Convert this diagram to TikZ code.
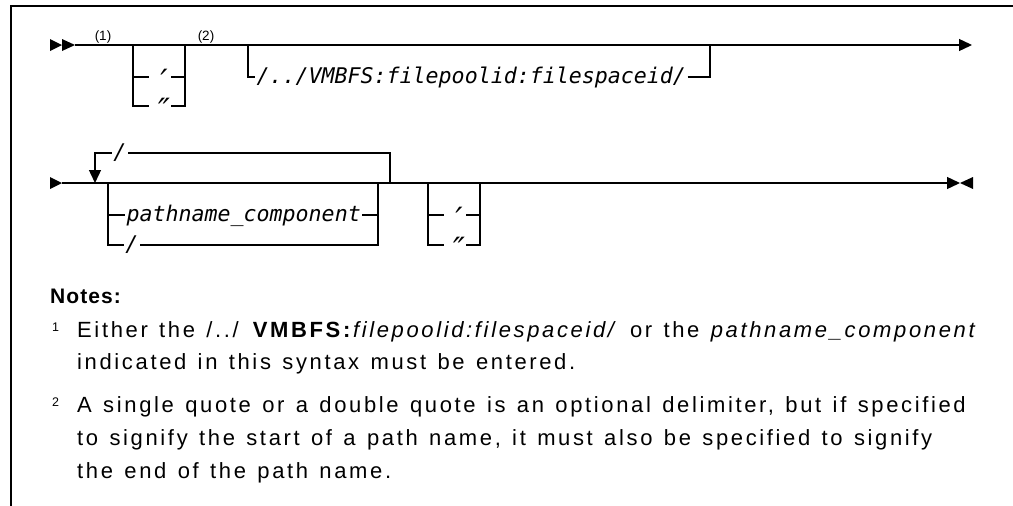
\documentclass[tikz,border=0pt]{standalone}
\usepackage{fontspec}
\setmainfont{Liberation Sans}
\newfontfamily\synfont{DejaVu Sans Mono}
\newfontfamily\notefont{Liberation Sans}[LetterSpace=12, WordSpace=1.3]
\newfontfamily\headfont{Liberation Sans}[LetterSpace=5]
\usetikzlibrary{arrows.meta}

% quote marks of the syntax, set large and lowered onto the rail
\newcommand{\railquote}[1]{\raisebox{-9pt}{\fontsize{32}{32}\selectfont #1}}

\begin{document}
\begin{tikzpicture}[x=1pt,y=-1pt,
  rail/.style={line width=1.4pt},
  tip/.style={-{Triangle[length=13pt,width=12pt]}},
  syn/.style={font=\synfont\itshape\fontsize{21.6}{22}\selectfont,
    inner xsep=1.5pt, inner ysep=0pt, text height=12pt, text depth=0pt},
  ref/.style={font=\fontsize{13.5}{14}\selectfont, inner sep=0pt, anchor=base},
  note/.style={font=\notefont\fontsize{22}{24}\selectfont, inner sep=0pt, anchor=base west},
  sup/.style={font=\fontsize{12.5}{13}\selectfont, inner sep=0pt, anchor=base west}]
\useasboundingbox (0,0) rectangle (1013,506);

% frame
\draw[line width=2pt] (11,506) -- (11,6) -- (1013,6);

% ---------- first line of the syntax ----------
\fill (50,39) -- (62,45) -- (50,51) -- cycle;
\fill (62,39) -- (75,45) -- (62,51) -- cycle;
\coordinate (r1s) at (75,45);
\coordinate (r1e) at (972,45);
\draw[rail,tip] (r1s) -- (r1e);
\node[ref] (fn1) at (103,41) {(1)};
\node[ref] (fn2) at (206,41) {(2)};

% optional quote
\coordinate (q1L) at (133,45);
\coordinate (q1R) at (185,45);
\node[syn] (q1s) at (160,77) {\railquote{′}};
\node[syn] (q1d) at (160,106) {\railquote{″}};
\draw[rail] (q1L) |- (q1s.west);
\draw[rail] (q1s.east) -| (q1R);
\draw[rail] (q1L) |- (q1d.west);
\draw[rail] (q1d.east) -| (q1R);

% optional file pool prefix
\coordinate (o1L) at (248,45);
\coordinate (o1R) at (710,45);
\node[syn,anchor=west] (opt) at (255,77) {/../VMBFS:filepoolid:filespaceid/};
\draw[rail] (o1L) |- (opt.west);
\draw[rail] (opt.east) -| (o1R);

% ---------- second line of the syntax ----------
\fill (50,177) -- (62,183) -- (50,189) -- cycle;
\coordinate (r2s) at (62,183);
\coordinate (r2e) at (960,183);
\draw[rail,tip] (r2s) -- (r2e);
\fill (973,177) -- (960,183) -- (973,189) -- cycle;

% repeat loop with separator
\coordinate (lpL) at (95,183);
\coordinate (lpR) at (390,183);
\node[syn] (lps) at (120,153) {/};
\draw[rail] (lpR) |- (lps.east);
\draw[rail,tip] (lps.west) -| (lpL);

% choice of component
\coordinate (c2L) at (108,183);
\coordinate (c2R) at (378,183);
\node[syn,anchor=west] (pc) at (125,215) {pathname\_component};
\node[syn] (sl) at (132,245) {/};
\draw[rail] (c2L) |- (pc.west);
\draw[rail] (pc.east) -| (c2R);
\draw[rail] (c2L) |- (sl.west);
\draw[rail] (sl.east) -| (c2R);

% closing quote
\coordinate (q2L) at (428,183);
\coordinate (q2R) at (480,183);
\node[syn] (q2s) at (455,215) {\railquote{′}};
\node[syn] (q2d) at (455,245) {\railquote{″}};
\draw[rail] (q2L) |- (q2s.west);
\draw[rail] (q2s.east) -| (q2R);
\draw[rail] (q2L) |- (q2d.west);
\draw[rail] (q2d.east) -| (q2R);

% ---------- notes ----------
\node[note,font=\headfont\bfseries\fontsize{21}{24}\selectfont] (nh) at (50,303) {Notes:};
\node[sup] (s1) at (52,331) {1};
\node[note] (n1a) at (77,337) {Either the /../ \textbf{VMBFS:}\textit{filepoolid:filespaceid/} or the \textit{pathname\_component}};
\node[note] (n1b) at (77,369) {indicated in this syntax must be entered.};
\node[sup] (s2) at (52,406) {2};
\node[note] (n2a) at (77,412) {A single quote or a double quote is an optional delimiter, but if specified};
\node[note] (n2b) at (77,445) {to signify the start of a path name, it must also be specified to signify};
\node[note] (n2c) at (77,478) {the end of the path name.};
\end{tikzpicture}
\end{document}
